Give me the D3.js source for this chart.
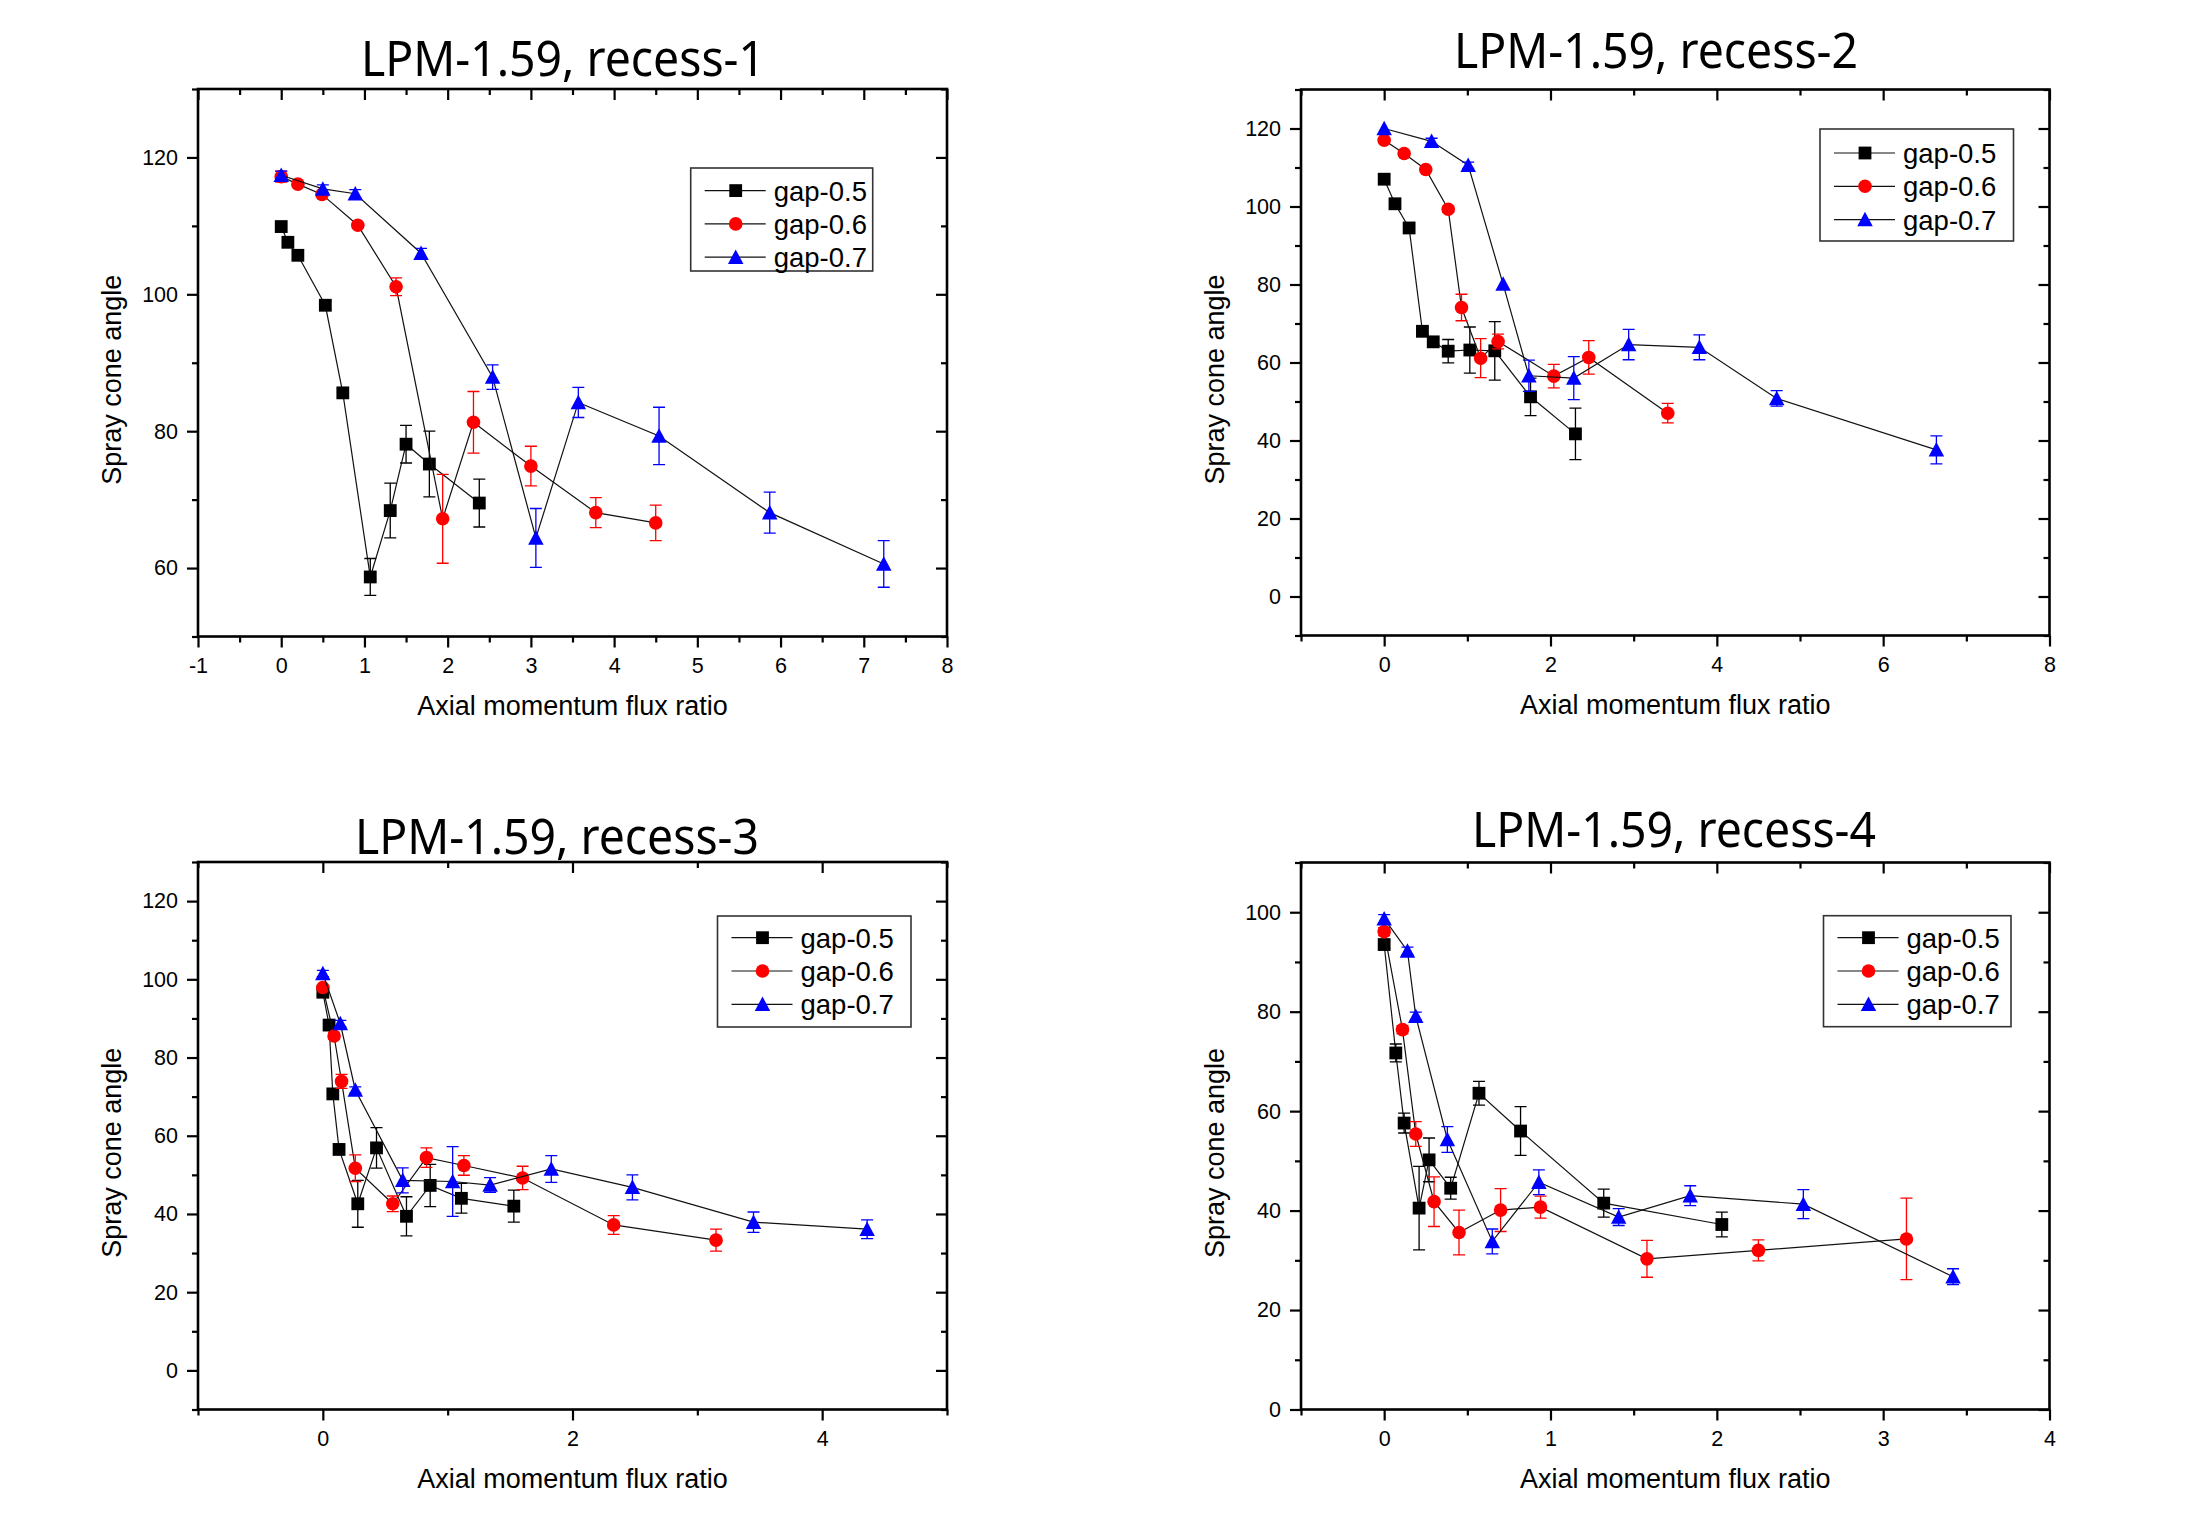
<!DOCTYPE html>
<html><head><meta charset="utf-8">
<script src="https://cdn.jsdelivr.net/npm/d3@7"></script>
<style>body{margin:0;background:#fff}svg{display:block}</style>
</head><body>
<svg id="c" width="2203" height="1537"></svg>
<script>
// ---------- DATA ----------
const seriesNames = ["gap-0.5", "gap-0.6", "gap-0.7"];
const panelTitles = ["LPM-1.59, recess-1", "LPM-1.59, recess-2", "LPM-1.59, recess-3", "LPM-1.59, recess-4"];
const xAxisLabel = "Axial momentum flux ratio";
const yAxisLabel = "Spray cone angle";

// each point: [x, angle, error]
const r1Gap05 = [[0,109.9,0],[0.08,107.6,0],[0.2,105.7,0],[0.53,98.4,0.6],[0.74,85.6,0],[1.07,58.7,2.7],[1.31,68.4,4],[1.50,78.1,2.75],[1.78,75.2,4.8],[2.38,69.5,3.5]];
const r1Gap06 = [[0,117.2,0.8],[0.2,116.1,0],[0.49,114.6,0],[0.92,110.1,0],[1.38,101.1,1.3],[1.94,67.2,6.5],[2.31,81.3,4.5],[3.0,74.9,2.9],[3.78,68.1,2.2],[4.5,66.6,2.6]];
const r1Gap07 = [[0,117.4,0.6],[0.5,115.4,0.6],[0.89,114.7,0.6],[1.68,106.0,0.7],[2.54,87.9,1.8],[3.06,64.4,4.3],[3.57,84.2,2.2],[4.54,79.3,4.2],[5.87,68.1,3],[7.24,60.6,3.4]];

const r2Gap05 = [[0,107.0,0],[0.13,100.7,0],[0.30,94.5,0],[0.46,68.0,0.8],[0.59,65.3,0.8],[0.77,62.9,3],[1.03,63.2,5.9],[1.33,63.0,7.5],[1.76,51.2,4.8],[2.30,41.7,6.6]];
const r2Gap06 = [[0,117.0,0],[0.24,113.6,0],[0.50,109.5,0],[0.77,99.3,0.8],[0.93,74.1,3.4],[1.16,61.1,5],[1.37,65.4,1.9],[2.04,56.5,3],[2.46,61.3,4.3],[3.41,47.0,2.5]];
const r2Gap07 = [[0,120.0,0],[0.57,116.7,0.8],[1.01,110.6,0.8],[1.43,80.1,0],[1.74,56.6,4],[2.28,56.0,5.5],[2.94,64.6,3.9],[3.79,63.9,3.2],[4.72,50.8,2],[6.64,37.6,3.6]];

const r3Gap05 = [[0,96.7,0.8],[0.05,88.3,0],[0.08,70.7,0],[0.13,56.5,0],[0.28,42.6,6],[0.43,56.9,5.2],[0.67,39.4,5],[0.86,47.3,5.4],[1.11,44.0,3.8],[1.53,42.0,4.1]];
const r3Gap06 = [[0,97.9,0],[0.09,85.5,0.8],[0.15,73.9,1.8],[0.26,51.7,3.4],[0.56,42.6,2],[0.83,54.4,2.5],[1.13,52.4,2.5],[1.60,49.2,3],[2.33,37.2,2.4],[3.15,33.3,2.8]];
const r3Gap07 = [[0,101.5,0.8],[0.14,88.7,0.8],[0.26,71.7,0.8],[0.64,48.6,3.2],[1.04,48.3,8.9],[1.34,47.4,1.9],[1.83,51.5,3.4],[2.48,46.8,3.2],[3.45,37.9,2.6],[4.36,36.1,2.4]];

const r4Gap05 = [[0,93.5,0.8],[0.07,71.7,1.8],[0.12,57.6,2],[0.21,40.5,8.4],[0.27,50.2,4.4],[0.40,44.5,2.2],[0.57,63.6,2.4],[0.82,56.0,4.9],[1.32,41.5,2.8],[2.03,37.2,2.5]];
const r4Gap06 = [[0,96.1,0.8],[0.11,76.4,0.8],[0.19,55.4,2.5],[0.30,41.8,5],[0.45,35.6,4.5],[0.70,40.1,4.3],[0.94,40.7,2.2],[1.58,30.3,3.7],[2.25,32.0,2.1],[3.14,34.3,8.2]];
const r4Gap07 = [[0,98.7,0.8],[0.14,92.2,0.8],[0.19,79.1,0.8],[0.38,54.3,2.6],[0.65,33.8,2.5],[0.93,45.7,2.5],[1.41,38.7,1.7],[1.84,43.0,2],[2.52,41.3,2.9],[3.42,26.7,1.6]];

// axis ranges and tick values
const r1XDomain = [-1, 8], r1YDomain = [50, 130];
const r2XDomain = [-1, 8], r2YDomain = [-10, 130];
const r3XDomain = [-1, 5], r3YDomain = [-10, 130];
const r4XDomain = [-0.5, 4], r4YDomain = [0, 110];
const r1XTicks = [-1,0,1,2,3,4,5,6,7,8], r1XMinor = [-0.5,0.5,1.5,2.5,3.5,4.5,5.5,6.5,7.5];
const r1YTicks = [60,80,100,120], r1YMinor = [50,70,90,110,130];
const r2XTicks = [0,2,4,6,8], r2XMinor = [-1,1,3,5,7];
const r2YTicks = [0,20,40,60,80,100,120], r2YMinor = [-10,10,30,50,70,90,110,130];
const r3XTicks = [0,2,4], r3XMinor = [-1,1,3,5];
const r3YTicks = [0,20,40,60,80,100,120], r3YMinor = [-10,10,30,50,70,90,110,130];
const r4XTicks = [0,1,2,3,4], r4XMinor = [-0.5,0.5,1.5,2.5,3.5];
const r4YTicks = [0,20,40,60,80,100], r4YMinor = [10,30,50,70,90,110];

// ---------- LAYOUT ----------
const colors = ["#000000", "#ff0000", "#0000ff"];
const panels = [
  {title: panelTitles[0], series:[r1Gap05,r1Gap06,r1Gap07], xd:r1XDomain, yd:r1YDomain, xt:r1XTicks, xm:r1XMinor, yt:r1YTicks, ym:r1YMinor,
   box:[198,89,947,636.5], titlePos:[361,76], leg:[690.7,168,182,103,22.6]},
  {title: panelTitles[1], series:[r2Gap05,r2Gap06,r2Gap07], xd:r2XDomain, yd:r2YDomain, xt:r2XTicks, xm:r2XMinor, yt:r2YTicks, ym:r2YMinor,
   box:[1301,89.5,2049.5,635.5], titlePos:[1454,68], leg:[1820,129,193.5,112,24]},
  {title: panelTitles[2], series:[r3Gap05,r3Gap06,r3Gap07], xd:r3XDomain, yd:r3YDomain, xt:r3XTicks, xm:r3XMinor, yt:r3YTicks, ym:r3YMinor,
   box:[198,862,947,1409.5], titlePos:[355,854], leg:[717.5,916,193.5,111,21.7]},
  {title: panelTitles[3], series:[r4Gap05,r4Gap06,r4Gap07], xd:r4XDomain, yd:r4YDomain, xt:r4XTicks, xm:r4XMinor, yt:r4YTicks, ym:r4YMinor,
   box:[1301,862.5,2049.5,1409.5], titlePos:[1472,847], leg:[1823.5,915.7,187.5,111,22]}
];

const svg = d3.select("#c");
const TF = "'Liberation Sans', Arial, sans-serif";
const fmt = d => String(d);

function marker(g, type, cx, cy, color) {
  if (type === 0) {
    g.append("rect").attr("x", cx-6.4).attr("y", cy-6.4).attr("width", 12.8).attr("height", 12.8).attr("fill", color);
  } else if (type === 1) {
    g.append("circle").attr("cx", cx).attr("cy", cy).attr("r", 6.8).attr("fill", color);
  } else {
    const s = 15.5, h = 13.5;
    g.append("path").attr("d", `M${cx},${cy-h/2-1}L${cx+s/2},${cy+h/2}L${cx-s/2},${cy+h/2}Z`).attr("fill", color);
  }
}

panels.forEach(p => {
  const [L, T, R, B] = p.box;
  const x = d3.scaleLinear().domain(p.xd).range([L, R]);
  const y = d3.scaleLinear().domain(p.yd).range([B, T]);
  const g = svg.append("g");

  const styleAxis = sel => {
    sel.select(".domain").remove();
    sel.selectAll(".tick line").attr("stroke", "#000").attr("stroke-width", 2.2);
    sel.selectAll("text").attr("font-family", TF).attr("font-size", 21.5).attr("fill", "#000");
  };
  g.append("g").attr("transform", `translate(0,${B})`)
    .call(d3.axisBottom(x).tickValues(p.xt).tickSize(11).tickPadding(10).tickFormat(fmt)).call(styleAxis);
  g.append("g").attr("transform", `translate(0,${B})`)
    .call(d3.axisBottom(x).tickValues(p.xm).tickSize(6).tickFormat("")).call(styleAxis);
  g.append("g").attr("transform", `translate(0,${T})`)
    .call(d3.axisTop(x).tickValues(p.xt).tickSize(-11).tickFormat("")).call(styleAxis);
  g.append("g").attr("transform", `translate(0,${T})`)
    .call(d3.axisTop(x).tickValues(p.xm).tickSize(-6).tickFormat("")).call(styleAxis);
  g.append("g").attr("transform", `translate(${L},0)`)
    .call(d3.axisLeft(y).tickValues(p.yt).tickSize(11).tickPadding(9).tickFormat(fmt)).call(styleAxis);
  g.append("g").attr("transform", `translate(${L},0)`)
    .call(d3.axisLeft(y).tickValues(p.ym).tickSize(6).tickFormat("")).call(styleAxis);
  g.append("g").attr("transform", `translate(${R},0)`)
    .call(d3.axisRight(y).tickValues(p.yt).tickSize(-11).tickFormat("")).call(styleAxis);
  g.append("g").attr("transform", `translate(${R},0)`)
    .call(d3.axisRight(y).tickValues(p.ym).tickSize(-6).tickFormat("")).call(styleAxis);

  g.append("rect").attr("x", L).attr("y", T).attr("width", R-L).attr("height", B-T)
    .attr("fill", "none").attr("stroke", "#000").attr("stroke-width", 2.6);

  g.append("text").attr("x", p.titlePos[0]).attr("y", p.titlePos[1])
    .attr("font-family", "'Noto Sans', sans-serif").attr("font-size", 50)
    .attr("textLength", 404).attr("lengthAdjust", "spacingAndGlyphs")
    .text(p.title);

  g.append("text").attr("x", (L+R)/2).attr("y", B+78).attr("text-anchor", "middle")
    .attr("font-family", TF).attr("font-size", 27).text(xAxisLabel);
  g.append("text").attr("transform", `translate(${L-77},${(T+B)/2+17}) rotate(-90)`).attr("text-anchor", "middle")
    .attr("font-family", TF).attr("font-size", 27).text(yAxisLabel);

  const line = d3.line().x(d => x(d[0])).y(d => y(d[1]));
  p.series.forEach((s, si) => {
    const sg = g.append("g");
    sg.append("path").attr("d", line(s)).attr("fill", "none").attr("stroke", "#111").attr("stroke-width", 1.2);
    s.forEach(d => {
      if (d[2] > 0) {
        const cx = x(d[0]), y1 = y(d[1]+d[2]), y2 = y(d[1]-d[2]);
        sg.append("path").attr("d", `M${cx},${y1}V${y2}M${cx-6},${y1}H${cx+6}M${cx-6},${y2}H${cx+6}`)
          .attr("stroke", colors[si]).attr("stroke-width", 1.3).attr("fill", "none");
      }
    });
    s.forEach(d => marker(sg, si, x(d[0]), y(d[1]), colors[si]));
  });

  const [lx, ly, lw, lh, r0] = p.leg;
  const lg = g.append("g");
  lg.append("rect").attr("x", lx).attr("y", ly).attr("width", lw).attr("height", lh)
    .attr("fill", "#fff").attr("stroke", "#333").attr("stroke-width", 1.6);
  seriesNames.forEach((nm, i) => {
    const yy = ly + r0 + i*33.3;
    lg.append("line").attr("x1", lx+14).attr("x2", lx+75).attr("y1", yy).attr("y2", yy)
      .attr("stroke", "#111").attr("stroke-width", 1.2);
    marker(lg, i, lx+45, yy, colors[i]);
    lg.append("text").attr("x", lx+83).attr("y", yy+10).attr("font-family", TF).attr("font-size", 27.5).text(nm);
  });
});
</script>
</body></html>
